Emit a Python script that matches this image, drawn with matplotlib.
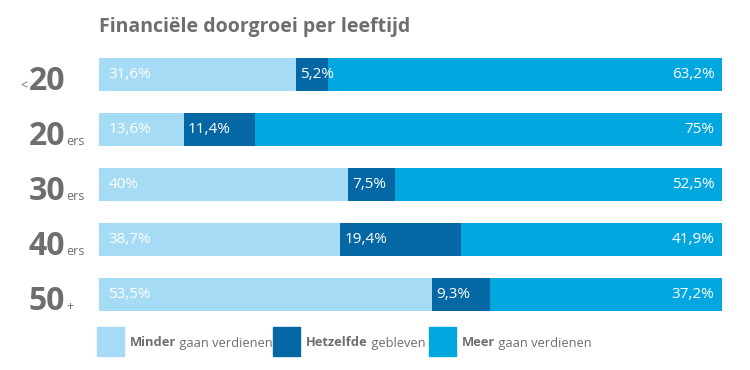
import matplotlib
matplotlib.use("Agg")
import matplotlib.pyplot as plt
import matplotlib.transforms as mtransforms
from matplotlib.patches import Rectangle

plt.rcParams['font.family'] = ['Open Sans', 'DejaVu Sans']

# data
ages = ["20", "20", "30", "40", "50"]
prefix = ["<", "", "", "", ""]
suffix = ["", "ers", "ers", "ers", "+"]
minder = [31.6, 13.6, 40.0, 38.7, 53.5]
zelfde = [5.2, 11.4, 7.5, 19.4, 9.3]
meer = [63.2, 75.0, 52.5, 41.9, 37.2]
series_names = [("Minder", " gaan verdienen"),
                ("Hetzelfde", " gebleven"),
                ("Meer", " gaan verdienen")]
colors = ["#a5dbf4", "#0567a4", "#02a7e0"]
grey = "#6d6e71"

def fmt(v):
    s = ("%.1f" % v).replace(".", ",")
    if s.endswith(",0"):
        s = s[:-2]
    return s + "%"

fig = plt.figure(figsize=(7.5, 3.7), dpi=100)
ax = fig.add_axes([99 / 750, 1 - 322 / 370, 623 / 750, 275 / 370])

rows = list(range(len(ages)))
ax.barh(rows, minder, height=0.6, color=colors[0])
ax.barh(rows, zelfde, left=minder, height=0.6, color=colors[1])
left3 = [a + b for a, b in zip(minder, zelfde)]
ax.barh(rows, meer, left=left3, height=0.6, color=colors[2])

ax.set_xlim(0, 100)
ax.set_ylim(4.5, -0.5)
ax.axis("off")

lbl = dict(color="white", fontsize=11, va="center")
for i in rows:
    ax.text(1.5, i, fmt(minder[i]), ha="left", **lbl)
    ax.text(minder[i] + 0.7, i, fmt(zelfde[i]), ha="left", **lbl)
    ax.text(98.8, i, fmt(meer[i]), ha="right", **lbl)

# age labels on the left
tr = mtransforms.blended_transform_factory(fig.transFigure, ax.transData)
big = []
for i in rows:
    t = ax.text(65 / 750, i + 0.28, ages[i], transform=tr, ha="right",
                va="baseline", fontsize=23, fontweight="bold", color=grey)
    big.append(t)

fig.canvas.draw()
r = fig.canvas.get_renderer()
for i, t in zip(rows, big):
    bb = t.get_window_extent(r)
    if prefix[i]:
        ax.text(bb.x0 / 750 - 1 / 750, i + 0.28, prefix[i], transform=tr,
                ha="right", va="baseline", fontsize=9, color=grey)
    if suffix[i]:
        ax.text(bb.x1 / 750 + 1 / 750, i + 0.28, suffix[i], transform=tr,
                ha="left", va="baseline", fontsize=9, color=grey)

ax.text(99 / 750, 1 - 27 / 370, "Financiële doorgroei per leeftijd",
        transform=fig.transFigure, fontsize=14, fontweight="bold",
        color=grey, va="center")

# legend
leg_x = [97, 273, 429]
for (bold, rest), c, x in zip(series_names, colors, leg_x):
    ax.add_patch(Rectangle((x / 750, 1 - 356 / 370), 27 / 750, 29 / 370,
                           transform=fig.transFigure, color=c, clip_on=False))
    t = ax.text((x + 33) / 750, 1 - 343 / 370, bold, transform=fig.transFigure,
                fontsize=9.3, fontweight="bold", color=grey, va="center")
    ax.annotate(rest, xy=(1, 0.5), xycoords=t, ha="left", va="center",
                fontsize=9.3, color=grey, annotation_clip=False)

fig.savefig("out.png", dpi=100)
